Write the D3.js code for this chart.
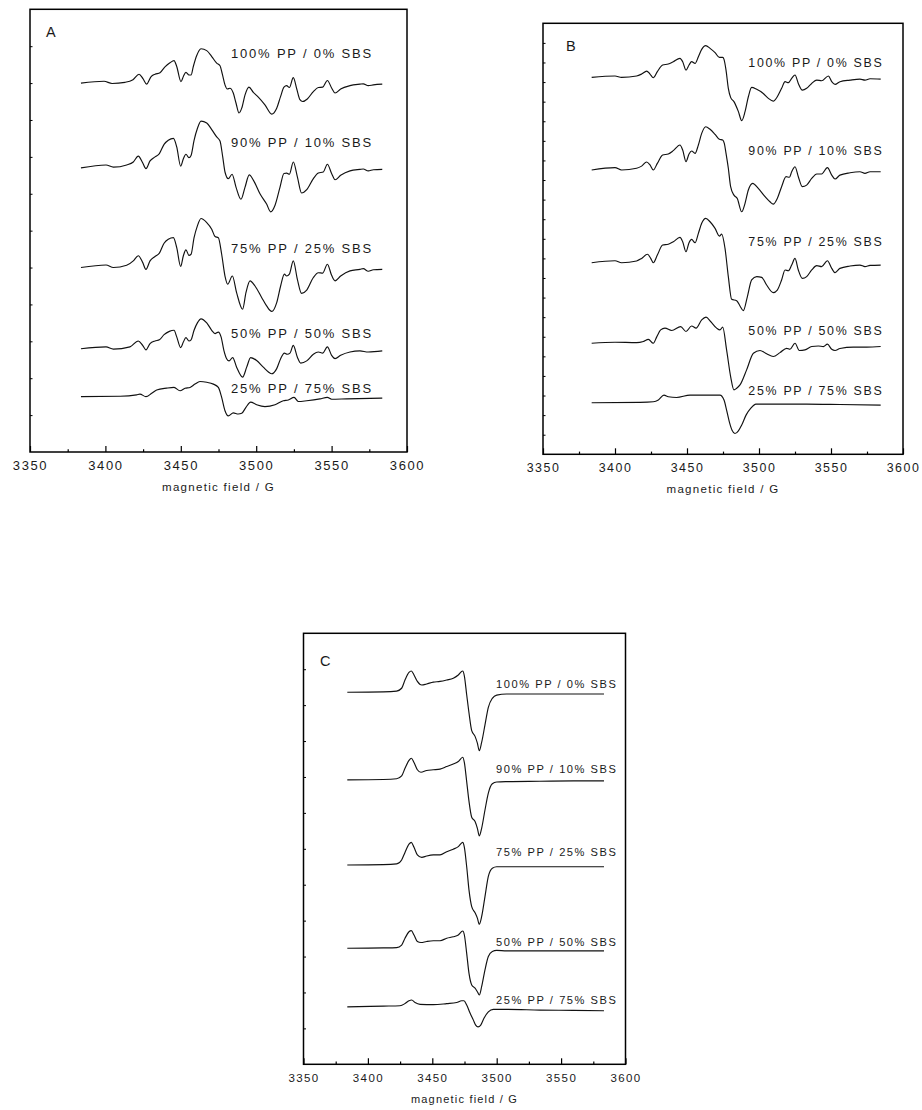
<!DOCTYPE html>
<html>
<head>
<meta charset="utf-8">
<script src="https://cdn.jsdelivr.net/npm/d3@7"></script>
<style>
  html, body { margin: 0; padding: 0; background: #fff; }
  svg { display: block; }
  text { font-family: "Liberation Sans", Arial, Helvetica, sans-serif; fill: #1a1a1a; }
</style>
</head>
<body>
<svg id="fig" width="922" height="1110"></svg>
<script>
// ---- axis ticks and text ----
const fieldTicks = [3350, 3400, 3450, 3500, 3550, 3600];
const fieldMinorTicks = [3375, 3425, 3475, 3525, 3575];
const blendLabels = ["100% PP / 0% SBS", "90% PP / 10% SBS", "75% PP / 25% SBS", "50% PP / 50% SBS", "25% PP / 75% SBS"];
const panelLetters = ["A", "B", "C"];
const xTitle = "magnetic field / G";

// ---- EPR spectra: [magnetic field (G), signal above the trace's own baseline (axis units)] ----
// Panel A
const specA100 = [[3383.8,0],[3399.1,0.05],[3404.4,-0.01],[3413.0,0.02],[3418.3,0.09],[3422.3,0.24],[3424.9,0.12],[3427.3,-0.03],[3430.2,0.17],[3432.9,0.24],[3436.2,0.28],[3439.5,0.44],[3442.8,0.55],[3445.5,0.61],[3447.3,0.45],[3450.1,0.04],[3451.7,0.18],[3453.4,0.29],[3455.4,0.22],[3456.8,0.22],[3458.3,0.45],[3460.5,0.74],[3463.4,0.93],[3467.2,0.88],[3470.5,0.72],[3473.8,0.54],[3476.0,0.47],[3477.5,0.25],[3479.3,-0.05],[3480.8,-0.16],[3482.6,-0.14],[3484.8,-0.27],[3486.6,-0.54],[3488.6,-0.81],[3490.4,-0.68],[3492.6,-0.32],[3495.2,-0.11],[3498.1,-0.25],[3501.4,-0.38],[3505.8,-0.59],[3510.3,-0.84],[3513.6,-0.68],[3516.2,-0.36],[3518.4,-0.11],[3520.2,-0.07],[3522.0,-0.12],[3524.6,0.15],[3526.9,-0.16],[3529.0,-0.45],[3530.8,-0.50],[3533.9,-0.43],[3537.9,-0.23],[3541.2,-0.12],[3544.1,-0.11],[3547.2,0.07],[3550.1,-0.14],[3552.3,-0.27],[3556.0,-0.16],[3562.2,-0.07],[3568.8,-0.03],[3571.0,-0.02],[3574.3,-0.07],[3577.7,-0.05],[3583.6,-0.03]];
const specA90 = [[3383.8,0],[3400.4,0.08],[3405.3,0.02],[3414.1,0.08],[3418.5,0.16],[3421.8,0.32],[3424.7,0.14],[3426.9,-0.02],[3429.6,0.19],[3432.9,0.30],[3435.8,0.39],[3438.9,0.64],[3441.7,0.75],[3445.1,0.80],[3447.3,0.57],[3449.9,0.05],[3451.7,0.25],[3453.4,0.37],[3455.4,0.28],[3456.8,0.34],[3458.8,0.75],[3461.0,1.07],[3463.4,1.27],[3467.2,1.22],[3470.5,1.04],[3473.8,0.84],[3476.0,0.73],[3477.8,0.30],[3479.3,-0.11],[3481.5,-0.29],[3484.0,-0.17],[3486.6,-0.52],[3489.9,-0.85],[3492.6,-0.52],[3495.4,-0.19],[3498.1,-0.33],[3502.5,-0.70],[3506.9,-0.98],[3509.6,-1.19],[3512.5,-1.01],[3515.8,-0.52],[3518.4,-0.15],[3520.2,-0.14],[3522.0,-0.17],[3524.6,0.16],[3527.3,-0.24],[3530.1,-0.68],[3533.5,-0.59],[3537.9,-0.29],[3541.2,-0.14],[3544.5,-0.11],[3547.2,0.10],[3550.0,-0.15],[3552.3,-0.32],[3556.0,-0.20],[3562.2,-0.08],[3568.8,-0.04],[3571.0,-0.03],[3574.3,-0.08],[3577.7,-0.05],[3583.6,-0.04]];
const specA75 = [[3383.8,0],[3400.4,0.07],[3405.3,0],[3414.1,0.06],[3418.5,0.18],[3421.8,0.32],[3424.7,0.14],[3426.9,-0.05],[3429.6,0.18],[3432.9,0.30],[3435.8,0.39],[3438.9,0.66],[3441.7,0.77],[3445.1,0.81],[3447.3,0.54],[3449.9,0.03],[3451.7,0.32],[3453.4,0.48],[3455.4,0.33],[3456.8,0.36],[3458.8,0.81],[3461.0,1.13],[3463.4,1.33],[3467.2,1.22],[3470.5,1.04],[3472.7,0.84],[3474.9,0.81],[3477.1,0.36],[3479.3,-0.23],[3481.1,-0.45],[3484.2,-0.23],[3487.0,-0.68],[3491.0,-1.13],[3493.2,-0.68],[3495.9,-0.36],[3499.2,-0.50],[3503.6,-0.81],[3506.9,-1.04],[3510.3,-1.19],[3513.6,-0.95],[3516.2,-0.50],[3518.7,-0.18],[3520.2,-0.23],[3522.0,-0.18],[3524.6,0.18],[3527.3,-0.32],[3530.1,-0.70],[3533.5,-0.61],[3537.9,-0.27],[3541.2,-0.14],[3544.1,-0.15],[3547.2,0.09],[3550.0,-0.21],[3552.3,-0.36],[3556.0,-0.23],[3562.2,-0.09],[3568.8,-0.05],[3571.0,-0.03],[3574.3,-0.10],[3577.7,-0.06],[3583.6,-0.05]];
const specA50 = [[3383.8,0],[3400.4,0.05],[3405.3,-0.01],[3416.3,0.05],[3421.8,0.21],[3424.7,0.09],[3426.9,-0.03],[3429.6,0.14],[3432.9,0.21],[3435.8,0.24],[3438.9,0.38],[3442.4,0.47],[3445.5,0.50],[3447.3,0.32],[3449.9,0.03],[3451.7,0.18],[3453.4,0.30],[3455.4,0.21],[3456.8,0.24],[3458.8,0.50],[3461.0,0.70],[3463.4,0.81],[3467.2,0.70],[3470.5,0.50],[3472.7,0.41],[3474.9,0.45],[3476.7,0.32],[3478.6,-0.05],[3480.4,-0.27],[3482.0,-0.33],[3484.4,-0.24],[3487.0,-0.50],[3491.0,-0.77],[3493.7,-0.50],[3496.3,-0.24],[3500.3,-0.32],[3504.7,-0.50],[3508.1,-0.63],[3510.3,-0.68],[3513.6,-0.54],[3516.2,-0.27],[3518.7,-0.12],[3520.6,-0.15],[3522.4,-0.12],[3524.6,0.09],[3527.3,-0.23],[3529.5,-0.39],[3533.5,-0.33],[3537.9,-0.15],[3541.2,-0.09],[3544.1,-0.12],[3547.2,0.05],[3550.0,-0.18],[3552.3,-0.27],[3556.0,-0.18],[3562.2,-0.09],[3568.8,-0.06],[3574.3,-0.09],[3583.6,-0.06]];
const specA25 = [[3383.8,0],[3409.7,0.01],[3420.7,0.05],[3422.9,0.07],[3426.9,0],[3430.7,0.09],[3434.0,0.18],[3440.6,0.23],[3445.5,0.25],[3449.5,0.16],[3452.8,0.23],[3456.1,0.25],[3459.4,0.34],[3462.7,0.41],[3467.2,0.39],[3471.6,0.34],[3474.9,0.25],[3477.1,-0.02],[3479.3,-0.38],[3481.5,-0.52],[3484.8,-0.44],[3488.1,-0.47],[3490.4,-0.45],[3493.2,-0.29],[3496.3,-0.15],[3500.3,-0.22],[3505.8,-0.27],[3512.5,-0.22],[3518.0,-0.11],[3521.3,-0.09],[3525.1,-0.02],[3527.9,-0.13],[3533.5,-0.11],[3542.3,-0.06],[3547.2,-0.02],[3550.0,-0.07],[3560.0,-0.06],[3583.6,-0.04]];
const offsetsA = [10.0, 7.7, 5.0, 2.8, 1.5];

// Panel B
const specB100 = [[3383.8,0],[3400.0,0.07],[3404.6,0],[3415.0,0.07],[3418.5,0.17],[3422.0,0.32],[3424.3,0.17],[3426.6,-0.02],[3429.4,0.29],[3433.1,0.63],[3437.0,0.68],[3440.5,0.80],[3445.1,0.97],[3447.0,0.80],[3449.3,0.37],[3451.4,0.63],[3453.2,0.80],[3455.6,0.71],[3457.9,1.05],[3460.2,1.43],[3463.0,1.62],[3466.0,1.48],[3469.5,1.26],[3472.5,1.02],[3474.8,1.02],[3475.7,0.92],[3477.1,0.37],[3478.7,-0.56],[3480.3,-1.02],[3482.6,-1.24],[3485.7,-1.75],[3488.0,-2.21],[3490.3,-1.75],[3492.6,-0.99],[3494.9,-0.51],[3498.4,-0.61],[3503.0,-0.82],[3506.5,-1.07],[3509.9,-1.21],[3512.7,-0.99],[3515.7,-0.56],[3518.1,-0.22],[3520.4,-0.27],[3522.7,-0.05],[3525.0,0.12],[3527.3,-0.31],[3530.1,-0.65],[3533.1,-0.56],[3536.6,-0.31],[3540.1,-0.14],[3543.5,-0.17],[3548.2,0.07],[3550.5,-0.22],[3552.8,-0.36],[3556.2,-0.22],[3563.2,-0.14],[3570.1,-0.09],[3573.6,-0.14],[3577.1,-0.07],[3584.5,-0.09]];
const specB90 = [[3383.8,0],[3400.0,0.12],[3404.6,0],[3415.0,0.09],[3418.5,0.20],[3422.0,0.41],[3424.3,0.26],[3426.6,0],[3429.4,0.34],[3433.1,0.77],[3437.0,0.82],[3440.5,0.99],[3445.1,1.28],[3447.0,1.02],[3449.3,0.43],[3451.4,0.82],[3453.2,0.97],[3455.6,0.85],[3457.9,1.28],[3460.2,1.87],[3463.0,2.21],[3466.0,2.08],[3469.5,1.82],[3472.5,1.57],[3474.8,1.53],[3475.9,1.36],[3477.1,0.85],[3478.7,0.09],[3480.3,-0.85],[3482.6,-1.28],[3484.9,-1.45],[3488.0,-2.13],[3490.3,-1.70],[3492.6,-1.02],[3495.6,-0.68],[3499.5,-0.94],[3504.2,-1.36],[3507.6,-1.62],[3509.9,-1.74],[3512.7,-1.45],[3515.7,-0.85],[3518.8,-0.34],[3521.1,-0.37],[3522.7,-0.09],[3525.0,0.17],[3527.3,-0.34],[3530.1,-0.85],[3533.1,-0.77],[3536.6,-0.43],[3540.1,-0.20],[3543.5,-0.20],[3547.5,0.12],[3550.5,-0.26],[3552.8,-0.46],[3556.2,-0.26],[3563.2,-0.14],[3570.1,-0.09],[3573.6,-0.17],[3577.1,-0.09],[3584.5,-0.09]];
const specB75 = [[3383.8,0],[3400.0,0.10],[3404.6,0],[3415.0,0.09],[3418.5,0.22],[3422.5,0.43],[3424.8,0.22],[3426.6,0],[3429.4,0.39],[3433.1,0.90],[3437.0,0.94],[3440.5,1.07],[3445.1,1.29],[3447.0,1.07],[3449.3,0.56],[3451.4,1.02],[3453.2,1.19],[3455.6,1.02],[3457.9,1.50],[3460.2,2.01],[3463.0,2.26],[3466.0,2.09],[3469.5,1.75],[3472.5,1.36],[3474.1,1.46],[3476.4,0.73],[3478.7,-0.71],[3481.0,-1.87],[3484.5,-1.94],[3486.8,-2.21],[3489.1,-2.45],[3491.9,-1.74],[3494.9,-0.88],[3498.4,-0.71],[3501.9,-0.75],[3505.3,-1.14],[3509.9,-1.53],[3512.7,-1.40],[3515.7,-0.88],[3518.1,-0.37],[3520.4,-0.41],[3522.7,-0.12],[3525.0,0.22],[3527.3,-0.37],[3530.1,-0.80],[3533.1,-0.71],[3536.6,-0.37],[3540.1,-0.15],[3543.5,-0.20],[3547.5,0.10],[3550.5,-0.29],[3552.8,-0.51],[3556.2,-0.29],[3563.2,-0.17],[3570.1,-0.12],[3573.6,-0.20],[3577.1,-0.14],[3584.5,-0.12]];
const specB50 = [[3383.8,0],[3400.0,0.05],[3415.0,0.03],[3419.7,0.09],[3423.2,0.20],[3426.6,0],[3428.9,0.31],[3431.7,0.68],[3434.7,0.77],[3439.4,0.65],[3445.6,0.85],[3449.3,0.60],[3453.2,0.88],[3456.3,0.77],[3460.2,1.19],[3463.2,1.33],[3466.4,1.11],[3470.6,0.77],[3472.9,0.68],[3474.8,0.82],[3477.5,-0.34],[3480.3,-1.70],[3482.6,-2.38],[3484.5,-2.30],[3486.8,-2.13],[3491.4,-1.36],[3496.1,-0.51],[3500.7,-0.37],[3505.3,-0.54],[3509.9,-0.68],[3514.6,-0.48],[3519.2,-0.26],[3521.5,-0.31],[3525.0,0],[3528.0,-0.37],[3531.9,-0.34],[3536.6,-0.17],[3541.2,-0.14],[3544.7,-0.17],[3547.5,-0.05],[3550.5,-0.31],[3552.8,-0.37],[3556.2,-0.27],[3565.5,-0.20],[3574.8,-0.20],[3584.5,-0.17]];
const specB25 = [[3383.8,0],[3417.4,0.02],[3426.6,0.05],[3430.1,0.14],[3434.0,0.39],[3437.0,0.31],[3442.8,0.27],[3452.1,0.39],[3472.9,0.39],[3475.7,0.14],[3477.5,-0.37],[3479.4,-0.97],[3481.3,-1.40],[3483.3,-1.57],[3485.7,-1.43],[3488.0,-1.14],[3491.0,-0.63],[3494.2,-0.29],[3497.9,-0.07],[3509.9,-0.07],[3533.1,-0.07],[3556.2,-0.09],[3584.5,-0.12]];
const offsetsB = [19.24, 14.51, 9.78, 5.67, 2.63];

// Panel C
const specC100 = [[3384.0,0],[3412.0,0.01],[3422.3,0.03],[3426.2,0.11],[3428.8,0.34],[3431.9,0.55],[3433.7,0.59],[3435.8,0.48],[3438.4,0.30],[3441.8,0.20],[3445.6,0.23],[3450.8,0.28],[3456.0,0.30],[3461.2,0.34],[3466.3,0.39],[3470.2,0.48],[3473.6,0.59],[3474.9,0.45],[3476.7,-0.07],[3478.5,-0.58],[3480.6,-1.07],[3483.2,-1.23],[3485.0,-1.42],[3486.5,-1.63],[3488.3,-1.40],[3490.9,-0.91],[3493.5,-0.42],[3496.6,-0.17],[3500.0,-0.08],[3507.7,-0.05],[3533.6,-0.05],[3559.5,-0.05],[3583.3,-0.05]];
const specC90 = [[3384.0,0],[3412.0,0.01],[3422.3,0.03],[3426.2,0.11],[3428.8,0.32],[3431.9,0.54],[3433.7,0.60],[3435.8,0.48],[3438.4,0.28],[3441.2,0.21],[3445.6,0.26],[3450.8,0.28],[3456.0,0.30],[3461.2,0.37],[3466.3,0.44],[3470.2,0.51],[3473.6,0.63],[3474.9,0.48],[3476.7,-0.05],[3478.5,-0.60],[3480.6,-1.04],[3483.2,-1.16],[3485.0,-1.35],[3486.5,-1.56],[3488.3,-1.35],[3490.9,-0.84],[3493.5,-0.37],[3496.6,-0.11],[3500.0,-0.06],[3507.7,-0.05],[3533.6,-0.04],[3559.5,-0.03],[3583.3,-0.03]];
const specC75 = [[3384.0,0],[3412.0,0.01],[3422.3,0.03],[3426.2,0.14],[3428.8,0.35],[3431.9,0.58],[3433.7,0.63],[3435.8,0.49],[3438.4,0.28],[3441.8,0.21],[3445.6,0.25],[3450.8,0.28],[3456.0,0.28],[3461.2,0.37],[3466.3,0.44],[3470.2,0.51],[3473.6,0.63],[3474.9,0.49],[3476.7,-0.05],[3478.5,-0.70],[3480.6,-1.16],[3483.2,-1.33],[3485.0,-1.48],[3486.5,-1.65],[3488.3,-1.44],[3490.9,-0.88],[3493.5,-0.32],[3496.6,-0.09],[3500.0,-0.05],[3507.7,-0.05],[3533.6,-0.05],[3559.5,-0.05],[3583.3,-0.05]];
const specC50 = [[3384.0,0],[3412.0,0.01],[3422.3,0.02],[3426.2,0.09],[3428.8,0.28],[3431.9,0.46],[3433.7,0.49],[3435.8,0.37],[3438.4,0.19],[3441.2,0.16],[3445.6,0.19],[3450.8,0.21],[3456.0,0.21],[3461.2,0.28],[3466.3,0.32],[3470.2,0.37],[3473.6,0.48],[3474.9,0.37],[3476.7,-0.14],[3478.5,-0.70],[3480.6,-1.02],[3483.2,-1.11],[3485.0,-1.21],[3486.5,-1.30],[3488.3,-1.07],[3490.9,-0.60],[3493.5,-0.23],[3496.6,-0.09],[3500.0,-0.06],[3507.7,-0.07],[3533.6,-0.07],[3559.5,-0.07],[3583.3,-0.07]];
const specC25 = [[3384.0,0],[3412.0,0.02],[3424.9,0.03],[3428.8,0.09],[3431.9,0.17],[3434.0,0.19],[3436.6,0.12],[3440.5,0.07],[3450.8,0.06],[3461.2,0.09],[3468.9,0.12],[3472.8,0.17],[3474.6,0.17],[3476.7,0.05],[3479.3,-0.17],[3481.9,-0.37],[3483.7,-0.51],[3485.5,-0.56],[3487.6,-0.51],[3490.1,-0.32],[3493.5,-0.14],[3497.4,-0.07],[3507.7,-0.07],[3533.6,-0.09],[3559.5,-0.10],[3583.3,-0.11]];
const offsetsC = [10.36, 7.92, 5.55, 3.23, 1.60];

// ---- panel geometry (pixels) and text placement ----
const panels = [
  { spectra: [specA100, specA90, specA75, specA50, specA25], offsets: offsetsA,
    left: 30, right: 407, top: 9.3, bottom: 452, yMax: 12,
    labelField: 3483.3, labelY: [10.68, 8.27, 5.39, 3.09, 1.60],
    labelSize: 13, labelSpacing: 1.8, tickSize: 13, tickSpacing: 1.6, tickDy: 18,
    letterX: 46, letterY: 36.7, letterSize: 14.5, titleY: 491, titleSize: 11.5, titleSpacing: 1.3 },
  { spectra: [specB100, specB90, specB75, specB50, specB25], offsets: offsetsB,
    left: 543, right: 903, top: 23.3, bottom: 454.3, yMax: 22,
    labelField: 3492.6, labelY: [19.79, 15.28, 10.65, 6.09, 3.03],
    labelSize: 12.4, labelSpacing: 1.7, tickSize: 12.4, tickSpacing: 1.5, tickDy: 17.7,
    letterX: 566, letterY: 50.7, letterSize: 14.5, titleY: 493, titleSize: 11.5, titleSpacing: 1.3 },
  { spectra: [specC100, specC90, specC75, specC50, specC25], offsets: offsetsC,
    left: 303.5, right: 625.5, top: 633.3, bottom: 1064.3, yMax: 12,
    labelField: 3499.5, labelY: [10.48, 8.10, 5.81, 3.29, 1.68],
    labelSize: 11.1, labelSpacing: 1.55, tickSize: 11.5, tickSpacing: 1.4, tickDy: 17.7,
    letterX: 320, letterY: 666, letterSize: 14.5, titleY: 1103, titleSize: 11, titleSpacing: 1.2 }
];

const svg = d3.select("#fig");

panels.forEach((p, pi) => {
  const x = d3.scaleLinear().domain([3350, 3600]).range([p.left, p.right]);
  const y = d3.scaleLinear().domain([0, p.yMax]).range([p.bottom, p.top]);
  const g = svg.append("g").attr("class", "panel");

  // inward ticks on the left (no labels)
  g.append("g")
    .attr("transform", `translate(${p.left},0)`)
    .call(d3.axisLeft(y).tickValues(d3.range(1, p.yMax)).tickSize(-2.5).tickSizeOuter(0).tickFormat(""))
    .call(a => a.select(".domain").remove())
    .call(a => a.selectAll("line").attr("stroke", "#000").attr("stroke-width", 1));

  // minor field ticks
  g.append("g")
    .attr("transform", `translate(0,${p.bottom})`)
    .call(d3.axisBottom(x).tickValues(fieldMinorTicks).tickSize(-2.7).tickSizeOuter(0).tickFormat(""))
    .call(a => a.select(".domain").remove())
    .call(a => a.selectAll("line").attr("stroke", "#000").attr("stroke-width", 1.2));

  // major field ticks with labels
  g.append("g")
    .attr("transform", `translate(0,${p.bottom})`)
    .call(d3.axisBottom(x).tickValues(fieldTicks).tickSize(-6).tickSizeOuter(0).tickFormat(d3.format("d")))
    .call(a => a.select(".domain").remove())
    .call(a => a.selectAll("line").attr("stroke", "#000").attr("stroke-width", 1.2))
    .call(a => a.selectAll("text")
      .attr("y", p.tickDy).attr("dy", null)
      .attr("fill", "#1a1a1a")
      .style("font-size", p.tickSize + "px")
      .style("letter-spacing", p.tickSpacing + "px")
      .style("font-family", '"Liberation Sans", Arial, sans-serif'));

  // frame
  g.append("rect")
    .attr("x", p.left).attr("y", p.top)
    .attr("width", p.right - p.left).attr("height", p.bottom - p.top)
    .attr("fill", "none").attr("stroke", "#000").attr("stroke-width", 1.5);

  // spectra, each lifted onto its own baseline
  p.spectra.forEach((spec, i) => {
    const off = p.offsets[i];
    const line = d3.line()
      .x(d => x(d[0]))
      .y(d => y(d[1] + off))
      .curve(d3.curveMonotoneX);
    g.append("path")
      .datum(spec)
      .attr("d", line)
      .attr("fill", "none")
      .attr("stroke", "#111")
      .attr("stroke-width", 1.15)
      .attr("stroke-linejoin", "round");
  });

  // blend composition labels
  blendLabels.forEach((t, i) => {
    g.append("text")
      .attr("x", x(p.labelField))
      .attr("y", y(p.labelY[i]))
      .style("font-size", p.labelSize + "px")
      .style("letter-spacing", p.labelSpacing + "px")
      .text(t);
  });

  // panel letter
  g.append("text")
    .attr("x", p.letterX).attr("y", p.letterY)
    .style("font-size", p.letterSize + "px")
    .text(panelLetters[pi]);

  // axis title
  g.append("text")
    .attr("x", (p.left + p.right) / 2).attr("y", p.titleY)
    .attr("text-anchor", "middle")
    .style("font-size", p.titleSize + "px")
    .style("letter-spacing", p.titleSpacing + "px")
    .text(xTitle);
});
</script>
</body>
</html>
